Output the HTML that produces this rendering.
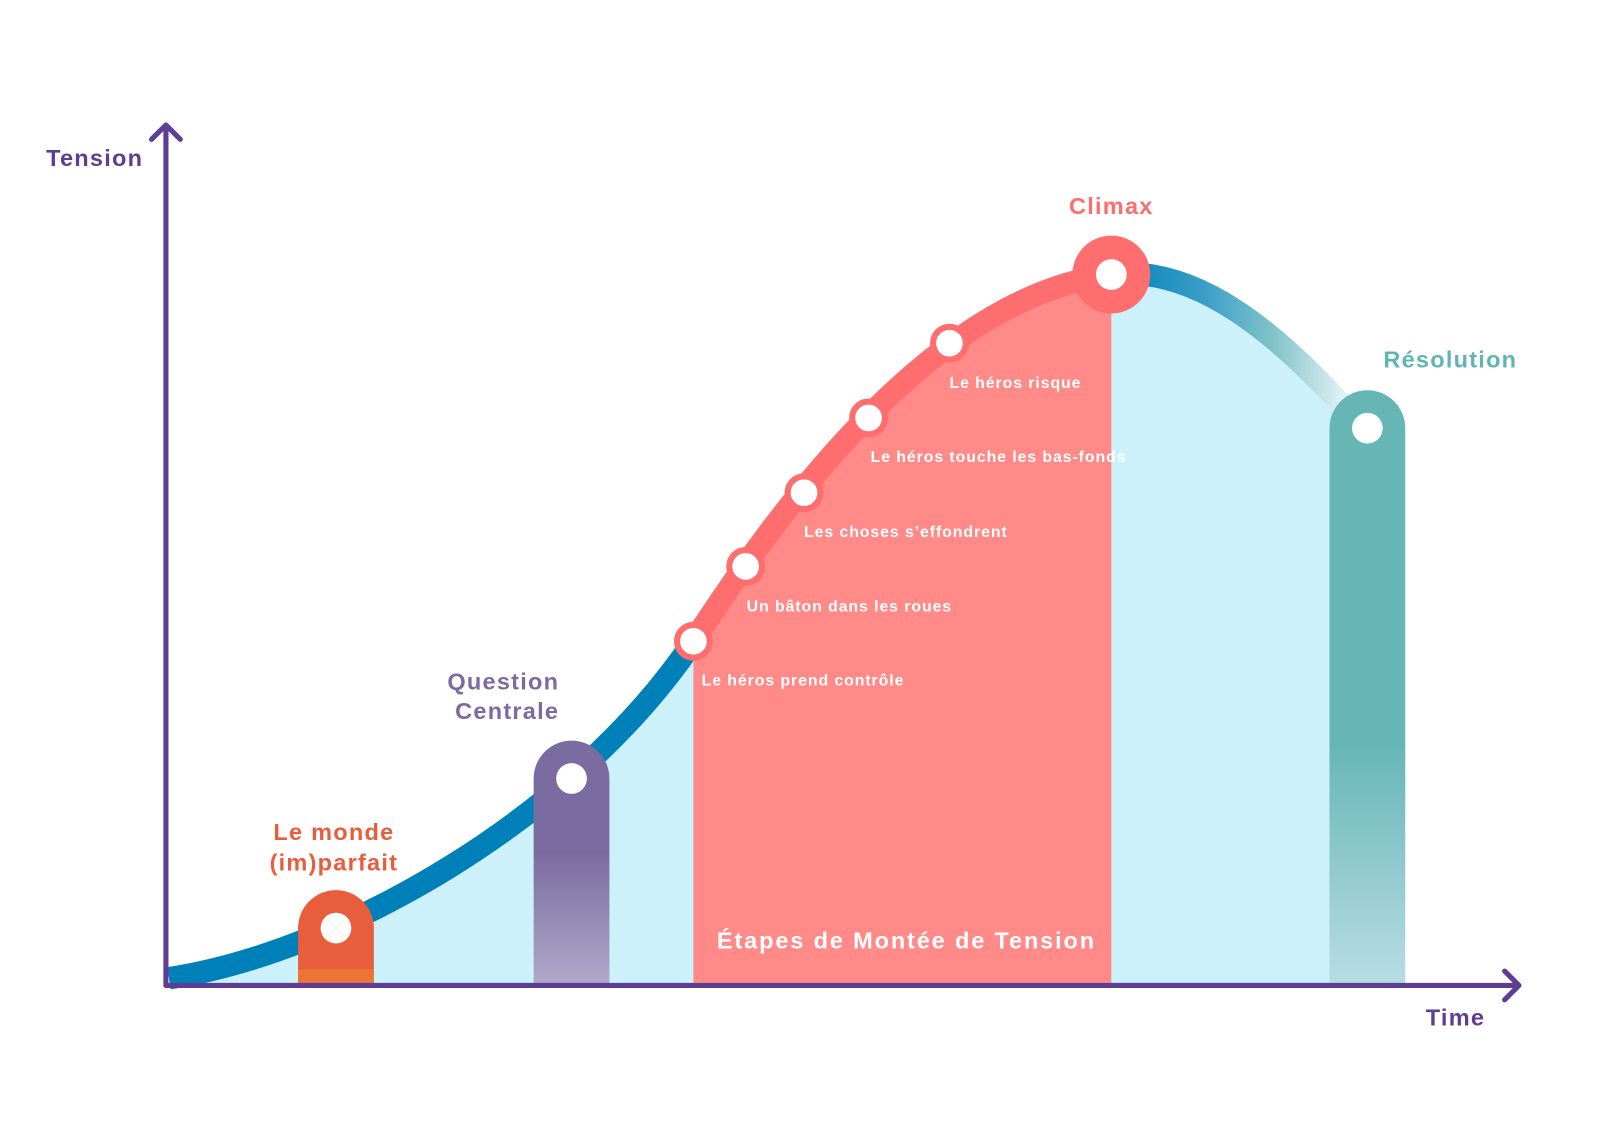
<!DOCTYPE html>
<html><head><meta charset="utf-8"><style>html,body{margin:0;padding:0;background:#fff}svg{display:block}</style></head>
<body>
<svg width="1605" height="1135" viewBox="0 0 1567 1108" preserveAspectRatio="none" xmlns="http://www.w3.org/2000/svg" font-family="Liberation Sans, sans-serif" font-weight="bold">
<defs>
<linearGradient id="gb" x1="1085" y1="0" x2="1310" y2="0" gradientUnits="userSpaceOnUse">
<stop offset="0" stop-color="#0080b8"/><stop offset="0.4" stop-color="#3a9ec8"/><stop offset="0.7" stop-color="#7fc3c8"/><stop offset="1" stop-color="#dff0f5"/></linearGradient>
<linearGradient id="gp" x1="0" y1="800" x2="0" y2="960" gradientUnits="userSpaceOnUse"><stop offset="0.2" stop-color="#7a6ca0"/><stop offset="1" stop-color="#b0a8c8"/></linearGradient>
<linearGradient id="gt" x1="0" y1="700" x2="0" y2="960" gradientUnits="userSpaceOnUse"><stop offset="0.1" stop-color="#66b6b6"/><stop offset="1" stop-color="#b8dce4"/></linearGradient>
</defs>
<path d="M165,955 C330,930 560,800 677,626 C740,530 900,290 1085,268 C1170,258 1250,330 1310,395 L1310,962 L165,962 Z" fill="#cdf1fb"/>
<path d="M677,626 C740,530 900,290 1085,268 L1085,962 L677,962 Z" fill="#ff8a88"/>
<path d="M165,955 C330,930 560,800 677,626" fill="none" stroke="#0080b8" stroke-width="22"/>
<path d="M1085,268 C1170,258 1250,330 1310,395" fill="none" stroke="url(#gb)" stroke-width="22"/>
<path d="M677,626 C740,530 900,290 1085,268" fill="none" stroke="#ff6e6e" stroke-width="22"/>
<path d="M291,906 A37,37 0 0 1 365,906 L365,960 L291,960 Z" fill="#e85e3c"/>
<rect x="291" y="946" width="74" height="14" fill="#ec7434"/>
<circle cx="328" cy="906" r="15" fill="#fff"/>
<path d="M521,760 A37,37 0 0 1 595,760 L595,960 L521,960 Z" fill="url(#gp)"/>
<circle cx="558" cy="760" r="15" fill="#fff"/>
<path d="M1298,418 A37,37 0 0 1 1372,418 L1372,960 L1298,960 Z" fill="url(#gt)"/>
<circle cx="1335" cy="418" r="15" fill="#fff"/>
<circle cx="1085" cy="268" r="38" fill="#ff6e6e"/><circle cx="1085" cy="268" r="15" fill="#fff"/>
<g fill="#fff" stroke="#ff6e6e" stroke-width="6">
<circle cx="677" cy="626" r="16"/><circle cx="728" cy="553" r="16"/><circle cx="785" cy="481" r="16"/><circle cx="848" cy="408" r="16"/><circle cx="927" cy="335" r="16"/>
</g>
<g stroke="#5e3e94" stroke-width="5" fill="none" stroke-linecap="round" stroke-linejoin="round">
<path d="M162,962 L162,122 M148,136 L162,122 L176,136"/>
<path d="M162,962 L1483,962 M1469,948 L1483,962 L1469,976"/>
</g>
<g font-size="23" letter-spacing="1.2">
<text x="45" y="162" fill="#5e3e94">Tension</text>
<text x="1392" y="1001" fill="#5e3e94">Time</text>
<text x="1085" y="209" fill="#ff6e6e" text-anchor="middle">Climax</text>
<text x="1416" y="359" fill="#5fb5b5" text-anchor="middle">Résolution</text>
<text x="546" y="673" fill="#7a6ca0" text-anchor="end">Question</text>
<text x="546" y="702" fill="#7a6ca0" text-anchor="end">Centrale</text>
<text x="326" y="820" fill="#e85e3c" text-anchor="middle">Le monde</text>
<text x="326" y="850" fill="#e85e3c" text-anchor="middle">(im)parfait</text>
<text x="885" y="926" fill="#fff" text-anchor="middle" letter-spacing="1.8">Étapes de Montée de Tension</text>
</g>
<g font-size="15.5" fill="#fff" letter-spacing="0.9">
<text x="685" y="669">Le héros prend contrôle</text>
<text x="729" y="597">Un bâton dans les roues</text>
<text x="785" y="524">Les choses s’effondrent</text>
<text x="850" y="451">Le héros touche les bas-fonds</text>
<text x="927" y="379">Le héros risque</text>
</g>
</svg>
</body></html>
